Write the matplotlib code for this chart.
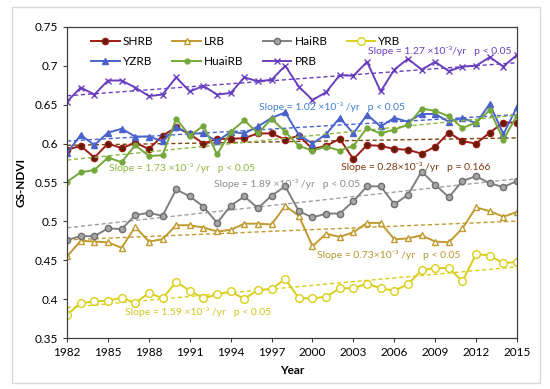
import numpy as np
import matplotlib; matplotlib.use("Agg")
import matplotlib.pyplot as plt
from matplotlib.patches import Rectangle

plt.rcParams['font.family'] = ['Lato', 'DejaVu Sans']

years = np.arange(1982, 2016)

SHRB = [0.592, 0.597, 0.582, 0.600, 0.594, 0.601, 0.593, 0.610, 0.621, 0.612, 0.600, 0.606,
        0.606, 0.607, 0.613, 0.613, 0.605, 0.610, 0.593, 0.597, 0.606, 0.580, 0.598, 0.597,
        0.593, 0.592, 0.587, 0.596, 0.614, 0.603, 0.600, 0.614, 0.627, 0.627]
LRB = [0.455, 0.475, 0.474, 0.473, 0.466, 0.493, 0.474, 0.477, 0.495, 0.495, 0.492, 0.487,
       0.489, 0.497, 0.497, 0.496, 0.520, 0.507, 0.468, 0.484, 0.480, 0.486, 0.498, 0.498,
       0.477, 0.478, 0.482, 0.474, 0.473, 0.491, 0.518, 0.513, 0.506, 0.512]
HaiRB = [0.476, 0.481, 0.481, 0.491, 0.490, 0.508, 0.511, 0.507, 0.541, 0.532, 0.519, 0.498,
         0.520, 0.532, 0.517, 0.533, 0.545, 0.513, 0.505, 0.510, 0.510, 0.526, 0.545, 0.545,
         0.522, 0.534, 0.564, 0.547, 0.531, 0.552, 0.558, 0.549, 0.544, 0.552]
YRB = [0.380, 0.395, 0.397, 0.398, 0.402, 0.395, 0.408, 0.401, 0.422, 0.411, 0.401, 0.406,
       0.410, 0.400, 0.412, 0.413, 0.426, 0.401, 0.401, 0.403, 0.414, 0.414, 0.420, 0.414,
       0.411, 0.419, 0.437, 0.440, 0.440, 0.423, 0.458, 0.456, 0.446, 0.448]
YZRB = [0.588, 0.611, 0.598, 0.614, 0.619, 0.609, 0.609, 0.603, 0.621, 0.613, 0.613, 0.603,
        0.615, 0.613, 0.622, 0.633, 0.640, 0.611, 0.600, 0.612, 0.633, 0.613, 0.637, 0.622,
        0.633, 0.628, 0.638, 0.638, 0.628, 0.633, 0.626, 0.651, 0.612, 0.647]
HuaiRB = [0.551, 0.563, 0.566, 0.582, 0.576, 0.598, 0.584, 0.585, 0.632, 0.610, 0.623, 0.586,
          0.615, 0.630, 0.613, 0.632, 0.615, 0.597, 0.591, 0.596, 0.591, 0.597, 0.620, 0.613,
          0.618, 0.624, 0.645, 0.642, 0.635, 0.620, 0.627, 0.643, 0.605, 0.636]
PRB = [0.654, 0.672, 0.663, 0.681, 0.681, 0.672, 0.661, 0.663, 0.685, 0.667, 0.674, 0.663,
       0.665, 0.685, 0.680, 0.682, 0.700, 0.673, 0.656, 0.666, 0.688, 0.687, 0.705, 0.667,
       0.695, 0.709, 0.695, 0.705, 0.693, 0.699, 0.700, 0.711, 0.699, 0.714]

# name, data, line colour, marker, marker face, marker edge, size
SERIES = [
    ("SHRB", SHRB, "#9B1C14", "o", "#5E1E08", "#9B1C14", 4.5),
    ("LRB", LRB, "#C19A2E", "^", "white", "#C19A2E", 5),
    ("HaiRB", HaiRB, "#808080", "o", "#A6A6A6", "#6E6E6E", 4.5),
    ("YRB", YRB, "#D9CF1A", "o", "white", "#D9CF1A", 5.5),
    ("YZRB", YZRB, "#4A63CC", "^", "#4A63CC", "#4A63CC", 5),
    ("HuaiRB", HuaiRB, "#74A83A", "o", "#74A83A", "#74A83A", 3.5),
    ("PRB", PRB, "#6A3FBF", "x", "#6A3FBF", "#6A3FBF", 4.5),
]
TREND_COL = {"SHRB": "#7A4A10", "LRB": "#C19A2E", "HaiRB": "#A0A0A0", "YRB": "#D9CF1A",
             "YZRB": "#4A63CC", "HuaiRB": "#8DB83F", "PRB": "#6A3FBF"}

# slope labels: text, colour, x, y
LABELS = [
    ("Slope = 1.27 ×10⁻³/yr   p < 0.05", "#6A3FBF", 2009.3, 0.719),
    ("Slope = 1.02 ×10⁻³ /yr   p < 0.05", "#3F7FD0", 2001.4, 0.647),
    ("Slope = 1.73 ×10⁻³ /yr   p < 0.05", "#8DB83F", 1990.4, 0.569),
    ("Slope = 1.89 ×10⁻³ /yr   p < 0.05", "#8C8C8C", 1998.1, 0.548),
    ("Slope = 0.28×10⁻³ /yr   p = 0.166", "#7A3A10", 2007.6, 0.570),
    ("Slope = 0.73×10⁻³ /yr   p < 0.05", "#B8962E", 2005.6, 0.457),
    ("Slope = 1.59 ×10⁻³ /yr   p < 0.05", "#CFC61A", 1991.6, 0.383),
]

fig = plt.figure(figsize=(5.5, 3.89), dpi=100)
fig.patches.append(Rectangle((0.022, 0.015), 0.96, 0.967, transform=fig.transFigure,
                             fill=False, ec="#D9D9D9", lw=1))
ax = fig.add_axes([0.122, 0.131, 0.818, 0.8])

handles = {}
for name, d, c, m, fc, ec, ms in SERIES:
    d = np.array(d)
    k, b = np.polyfit(years, d, 1)
    ax.plot(years, k * years + b, ls=(0, (3, 2)), color=TREND_COL[name], lw=1.0)
    h, = ax.plot(years, d, color=c, lw=1.4, marker=m, ms=ms, mfc=fc, mec=ec, mew=1.0, label=name)
    handles[name] = h

for t, c, x, y in LABELS:
    ax.text(x, y, t, color=c, fontsize=7.5, ha="center", va="center")

order = ["SHRB", "YZRB", "LRB", "HuaiRB", "HaiRB", "PRB", "YRB"]
ax.legend([handles[n] for n in order], order, ncol=4, frameon=False, fontsize=8.5,
          loc="upper left", bbox_to_anchor=(0.03, 1.005), handlelength=2.4,
          columnspacing=1.6, handletextpad=0.3, labelspacing=0.75)

ax.set_xlim(1982, 2015)
ax.set_ylim(0.35, 0.75)
ax.set_xticks(np.arange(1982, 2016, 3))
yt = np.arange(0.35, 0.751, 0.05)
ax.set_yticks(yt)
ax.set_yticklabels([("%.2f" % v).rstrip("0") for v in yt])
ax.tick_params(labelsize=8.5, direction="out", length=3, color="#404040")
for s in ax.spines.values():
    s.set_color("#404040")
    s.set_linewidth(0.9)
ax.set_xlabel("Year", fontsize=8.5, fontweight="bold", labelpad=5)
ax.set_ylabel("GS-NDVI", fontsize=8.5, fontweight="bold", labelpad=6)

fig.savefig("out.png", dpi=100)
